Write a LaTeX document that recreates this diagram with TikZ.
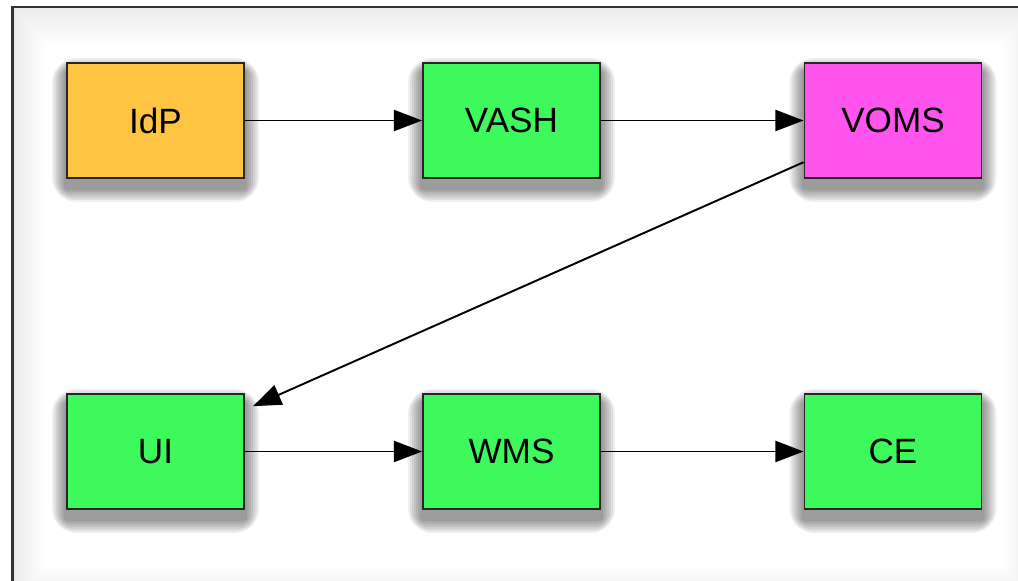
\documentclass[tikz,border=0pt]{standalone}
\usepackage{fontspec}
\setmainfont{Liberation Sans}
\usetikzlibrary{arrows.meta,backgrounds}
\definecolor{idporange}{HTML}{FFC542}
\definecolor{nodegreen}{HTML}{3EF95B}
\definecolor{vomspink}{HTML}{FF55EE}

\begin{document}
\begin{tikzpicture}[x=0.02cm,y=-0.02cm,
  box/.style={draw=black!85,line width=1.1pt,minimum width=3.54cm,minimum height=2.3cm,
    font=\fontsize{20}{24}\selectfont},
  flow/.style={-{Triangle[length=16pt,width=12pt]},line width=1.1pt}]
  \clip (0,0) rectangle (1018,581);

  \node[box,fill=idporange] (idp) at (155.5,120.5) {IdP};
  \node[box,fill=nodegreen] (vash) at (511.5,120.5) {VASH};
  \node[box,fill=vomspink] (voms) at (893,120.5) {VOMS};
  \node[box,fill=nodegreen] (ui) at (155.5,451.5) {UI};
  \node[box,fill=nodegreen] (wms) at (511.5,451.5) {WMS};
  \node[box,fill=nodegreen] (ce) at (893,451.5) {CE};

  \draw[flow] (idp) -- (vash);
  \draw[flow] (vash) -- (voms);
  \draw[flow,shorten >=5pt] (voms.205) -- (ui.25);
  \draw[flow] (ui) -- (wms);
  \draw[flow] (wms) -- (ce);

  \begin{scope}[on background layer]
    % frame with a soft grey inner edge
    \foreach \i [evaluate=\i as \g using 8-0.8*\i] in {0,...,10} {
      \fill[black!\g] (13+3*\i,7.5+3.5*\i) rectangle (1035-3*\i,598-3*\i);
    }
    \draw[black!80,line width=1.3pt] (12.5,7) rectangle (1035,598);
    % soft drop shadows
    \foreach \n in {idp,vash,voms,ui,wms,ce} {
      \foreach \r in {14,12,...,2} {
        \fill[black,opacity=0.065,rounded corners=\r]
          ([shift={(-\r,10-\r)}]\n.north west) rectangle ([shift={(\r,9+\r)}]\n.south east);
      }
    }
  \end{scope}
\end{tikzpicture}
\end{document}
